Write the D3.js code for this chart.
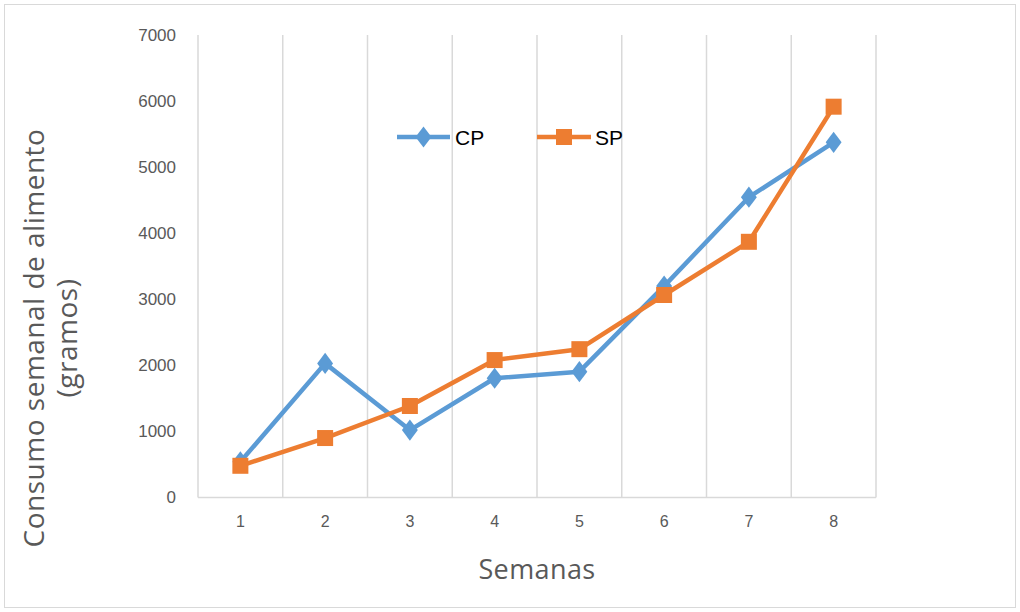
<!DOCTYPE html>
<html><head><meta charset="utf-8">
<script src="https://cdn.jsdelivr.net/npm/d3@7/dist/d3.min.js"></script>
<style>body{margin:0;background:#fff}svg{display:block}</style>
</head><body><svg id="c" width="1020" height="612"></svg>
<script>
const weeks = ["1","2","3","4","5","6","7","8"];
const cp = [540, 2030, 1020, 1805, 1905, 3200, 4545, 5375];
const sp = [480, 900, 1385, 2080, 2245, 3065, 3870, 5915];
const yTicks = [0,1000,2000,3000,4000,5000,6000,7000];
const seriesNames = ["CP","SP"];
const colors = ["#5b9bd5","#ed7d31"];

const svg = d3.select("#c");
svg.append("rect").attr("x",4.5).attr("y",4.5).attr("width",1011).attr("height",603)
  .attr("fill","#fff").attr("stroke","#d9d9d9");

const L=198, R=876, T=35, B=497.5;
const x = d3.scaleBand().domain(weeks).range([L,R]);
const y = d3.scaleLinear().domain([0,7000]).range([B,T]);
const font = "Liberation Sans, Arial, sans-serif";
const tfont = "Open Sans, sans-serif";

const bounds = weeks.map(w=>x(w)).concat([R]);
svg.append("g").selectAll("line").data(bounds).join("line")
  .attr("x1",d=>d).attr("x2",d=>d).attr("y1",T).attr("y2",B)
  .attr("stroke","#d9d9d9").attr("stroke-width",1.5);
svg.append("line").attr("x1",L).attr("x2",R).attr("y1",B).attr("y2",B)
  .attr("stroke","#d9d9d9").attr("stroke-width",1.5);

const ya = d3.axisLeft(y).tickValues(yTicks).tickSize(0).tickPadding(0).tickFormat(d3.format("d"));
const gy = svg.append("g").attr("transform",`translate(176,0)`).call(ya);
gy.select(".domain").remove();
gy.selectAll("text").attr("fill","#595959").style("font-family",font).style("font-size","17px");

const xa = d3.axisBottom(x).tickSize(0).tickPadding(0);
const gx = svg.append("g").attr("transform",`translate(0,${B+18})`).call(xa);
gx.select(".domain").remove();
gx.selectAll("text").attr("fill","#595959").style("font-family",font).style("font-size","16px");

svg.append("text").attr("x",537).attr("y",579).attr("text-anchor","middle")
  .attr("fill","#595959").style("font-family",tfont).style("font-size","27px")
  .style("letter-spacing","0.4px").text("Semanas");
const yt = svg.append("text").attr("fill","#595959")
  .style("font-family",tfont).style("font-size","28px").style("letter-spacing","0.5px")
  .attr("text-anchor","middle");
yt.append("tspan").attr("x",-338).attr("y",44).text("Consumo semanal de alimento");
yt.append("tspan").attr("x",-338).attr("y",77).text("(gramos)");
yt.attr("transform","rotate(-90)");

const cx = w => x(w) + x.bandwidth()/2;
const line = d3.line().x((d,i)=>cx(weeks[i])).y(d=>y(d));
const data = [cp, sp];
const diamondPath = d3.symbol().type(d3.symbolDiamond).size(130)();

data.forEach((vals,k)=>{
  svg.append("path").datum(vals).attr("d",line).attr("fill","none")
    .attr("stroke",colors[k]).attr("stroke-width",4.5).attr("stroke-linejoin","round");
  const g = svg.append("g");
  if(k===0){
    g.selectAll("path").data(vals).join("path")
      .attr("d",diamondPath)
      .attr("transform",(d,i)=>`translate(${cx(weeks[i])},${y(d)}) scale(1.3,1)`)
      .attr("fill",colors[k]);
  } else {
    g.selectAll("rect").data(vals).join("rect")
      .attr("x",(d,i)=>cx(weeks[i])-8).attr("y",d=>y(d)-8)
      .attr("width",16).attr("height",16).attr("fill",colors[k]);
  }
});

const leg = [{x0:397,x1:450,tx:455},{x0:537,x1:591,tx:595}];
const ly = 137;
leg.forEach((l,k)=>{
  svg.append("line").attr("x1",l.x0).attr("x2",l.x1).attr("y1",ly).attr("y2",ly)
    .attr("stroke",colors[k]).attr("stroke-width",4.5);
  const m=(l.x0+l.x1)/2;
  if(k===0){
    svg.append("path").attr("d",diamondPath)
      .attr("transform",`translate(${m},${ly}) scale(1.3,1)`).attr("fill",colors[k]);
  } else {
    svg.append("rect").attr("x",m-8).attr("y",ly-8).attr("width",16).attr("height",16).attr("fill",colors[k]);
  }
  svg.append("text").attr("x",l.tx).attr("y",ly+8).attr("fill","#000")
    .style("font-family",font).style("font-size","21px").text(seriesNames[k]);
});
</script></body></html>
